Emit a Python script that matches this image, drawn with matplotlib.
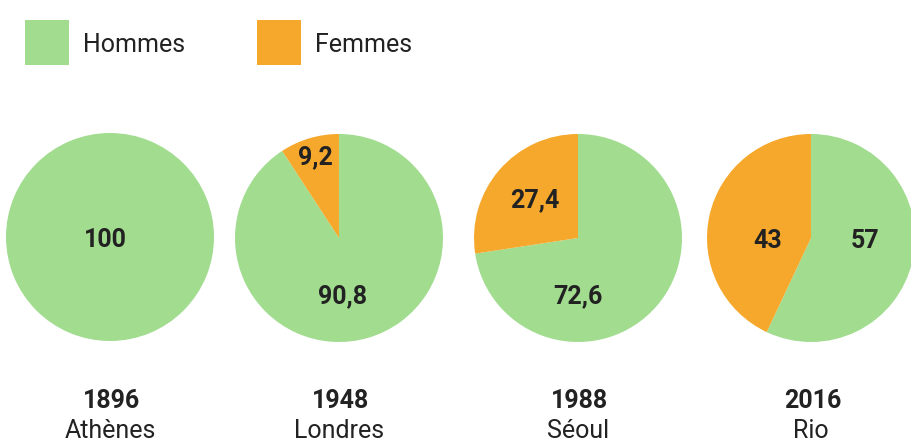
import matplotlib
matplotlib.use('Agg')
import matplotlib.pyplot as plt
from matplotlib.patches import Rectangle

# data
years = ['1896', '1948', '1988', '2016']
cities = ['Athènes', 'Londres', 'Séoul', 'Rio']
hommes = [100, 90.8, 72.6, 57]
femmes = [0, 9.2, 27.4, 43]
series = ['Hommes', 'Femmes']

GREEN = '#a1dc8f'
ORANGE = '#f5a82b'
TXT = '#222222'

plt.rcParams['font.family'] = ['Roboto', 'DejaVu Sans']

W, H = 912, 445
fig = plt.figure(figsize=(W / 100, H / 100), dpi=100)
fig.patch.set_facecolor('white')

# pie geometry in pixels (center x, center y from top), radius
centers = [(110, 237), (339, 238), (578, 238), (811, 238)]
R = 104
# label baseline offsets (in radius units) for Hommes / Femmes values
off_h = [(-0.04, -0.10), (0.03, -0.63), (0.0, -0.63), (0.52, -0.10)]
off_f = [None, (-0.23, 0.71), (-0.42, 0.30), (-0.42, -0.10)]


def fmt(v):
    s = ('%g' % v)
    return s.replace('.', ',')


for i in range(len(years)):
    cx, cy = centers[i]
    ax = fig.add_axes([(cx - R) / W, (H - cy - R) / H, 2 * R / W, 2 * R / H])
    vals = [hommes[i], femmes[i]]
    ax.pie(vals, colors=[GREEN, ORANGE], startangle=90, counterclock=False,
           radius=1, wedgeprops=dict(linewidth=0))
    ax.set_xlim(-1, 1)
    ax.set_ylim(-1, 1)
    ax.set_aspect('equal')
    ax.axis('off')
    ax.text(off_h[i][0], off_h[i][1], fmt(hommes[i]), ha='center', va='baseline',
            fontsize=18, fontweight='bold', color=TXT)
    if femmes[i] > 0:
        ax.text(off_f[i][0], off_f[i][1], fmt(femmes[i]), ha='center', va='baseline',
                fontsize=18, fontweight='bold', color=TXT)
    fig.text(cx / W + 0.002, 1 - 408 / H, years[i], ha='center', va='baseline',
             fontsize=18, fontweight='bold', color=TXT)
    fig.text(cx / W, 1 - 438 / H, cities[i], ha='center', va='baseline',
             fontsize=18, color=TXT)

# legend
leg_x = [25, 257]
for j, (name, col) in enumerate(zip(series, [GREEN, ORANGE])):
    x0 = leg_x[j]
    fig.patches.append(Rectangle((x0 / W, 1 - 65 / H), 44 / W, 45 / H,
                                 transform=fig.transFigure, facecolor=col,
                                 edgecolor='none'))
    fig.text((x0 + 58) / W, 1 - 52 / H, name, ha='left', va='baseline',
             fontsize=18, color=TXT)

fig.savefig('out.png', dpi=100)
